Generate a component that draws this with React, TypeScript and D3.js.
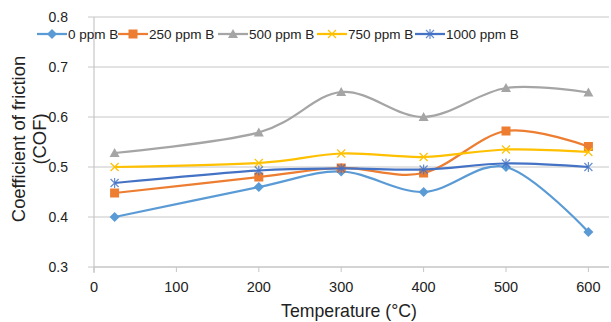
import * as d3 from "d3";
import React from "react";

const temps = [25, 200, 300, 400, 500, 600];
const seriesNames = ["0 ppm B", "250 ppm B", "500 ppm B", "750 ppm B", "1000 ppm B"];
const cof0 = [0.4, 0.46, 0.491, 0.45, 0.5, 0.37];
const cof250 = [0.448, 0.48, 0.498, 0.488, 0.572, 0.541];
const cof500 = [0.528, 0.569, 0.65, 0.6, 0.658, 0.649];
const cof750 = [0.5, 0.508, 0.527, 0.52, 0.535, 0.53];
const cof1000 = [0.468, 0.493, 0.497, 0.495, 0.507, 0.5];
const yTicks = [0.3, 0.4, 0.5, 0.6, 0.7, 0.8];
const xTicks = [0, 100, 200, 300, 400, 500, 600];

const colors = ["#5b9bd5", "#ed7d31", "#a5a5a5", "#ffc000", "#4472c4"];
const markers = ["diamond", "square", "triangle", "x", "star"];
const values = [cof0, cof250, cof500, cof750, cof1000];

const W = 611;
const H = 322;
const font = "'Liberation Sans', Arial, Helvetica, sans-serif";

const Marker = ({ type, x, y, color }: { type: string; x: number; y: number; color: string }) => {
  if (type === "diamond")
    return <path d={`M${x},${y - 5}L${x + 5},${y}L${x},${y + 5}L${x - 5},${y}Z`} fill={color} />;
  if (type === "square") return <rect x={x - 4.5} y={y - 4.5} width={9} height={9} fill={color} />;
  if (type === "triangle")
    return <path d={`M${x},${y - 5}L${x + 5},${y + 4}L${x - 5},${y + 4}Z`} fill={color} />;
  if (type === "x")
    return (
      <path
        d={`M${x - 4},${y - 4}L${x + 4},${y + 4}M${x - 4},${y + 4}L${x + 4},${y - 4}`}
        stroke={color}
        strokeWidth={1.2}
      />
    );
  return (
    <path
      d={`M${x - 4},${y - 4}L${x + 4},${y + 4}M${x - 4},${y + 4}L${x + 4},${y - 4}M${x},${y - 5}L${x},${y + 5}`}
      stroke={color}
      strokeWidth={1.2}
      opacity={0.8}
    />
  );
};

export default function App() {
  const x = d3.scaleLinear().domain([0, 625]).range([94, 609]);
  const y = d3.scaleLinear().domain([0.3, 0.8]).range([267, 17]);

  const line = d3
    .line<number>()
    .x((_, i) => x(temps[i]))
    .y((d) => y(d))
    .curve(d3.curveCatmullRom.alpha(0));

  const legendX = [37, 118, 218, 317, 415];

  return (
    <svg width={W} height={H} style={{ position: "absolute", left: 0, top: 0, background: "#fff" }}>
      {yTicks.map((t) => (
        <g key={t}>
          <line x1={88} x2={609} y1={y(t)} y2={y(t)} stroke="#c6c6c6" strokeWidth={1} />
          <text x={68} y={y(t) + 5} textAnchor="end" fontFamily={font} fontSize={14} fill="#222">
            {d3.format(".1f")(t)}
          </text>
        </g>
      ))}
      <line x1={94} x2={94} y1={17} y2={273} stroke="#c6c6c6" strokeWidth={1.2} />
      <line x1={94} x2={609} y1={267} y2={267} stroke="#c6c6c6" strokeWidth={1.2} />
      {xTicks.map((t) => (
        <g key={t}>
          <line x1={x(t)} x2={x(t)} y1={267} y2={272} stroke="#c6c6c6" strokeWidth={1} />
          <text x={x(t)} y={292} textAnchor="middle" fontFamily={font} fontSize={14.5} fill="#222">
            {t}
          </text>
        </g>
      ))}
      <text x={349} y={317} textAnchor="middle" fontFamily={font} fontSize={17.7} fill="#222">
        Temperature (°C)
      </text>
      <g transform="translate(25,139) rotate(-90)">
        <text x={0} y={0} textAnchor="middle" fontFamily={font} fontSize={18.4} fill="#222">
          Coefficient of friction
        </text>
        <text x={0} y={21} textAnchor="middle" fontFamily={font} fontSize={18.4} fill="#222">
          (COF)
        </text>
      </g>

      {values.map((vals, s) => (
        <g key={seriesNames[s]}>
          <path d={line(vals) ?? ""} fill="none" stroke={colors[s]} strokeWidth={2.25} />
          {vals.map((v, i) => (
            <Marker key={i} type={markers[s]} x={x(temps[i])} y={y(v)} color={colors[s]} />
          ))}
        </g>
      ))}

      {seriesNames.map((name, s) => (
        <g key={name}>
          <line x1={legendX[s]} x2={legendX[s] + 30} y1={34} y2={34} stroke={colors[s]} strokeWidth={2.25} />
          <Marker type={markers[s]} x={legendX[s] + 15} y={34} color={colors[s]} />
          <text x={legendX[s] + 31} y={39} fontFamily={font} fontSize={13.5} fill="#222">
            {name}
          </text>
        </g>
      ))}
    </svg>
  );
}
